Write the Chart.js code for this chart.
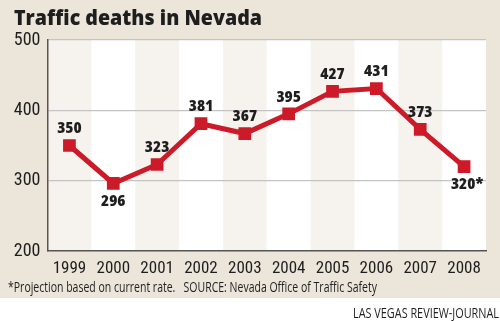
<!DOCTYPE html>
<html>
<head>
<meta charset="utf-8">
<script src="https://cdn.jsdelivr.net/npm/chart.js@4.4.1/dist/chart.umd.min.js"></script>
<style>
  html, body { margin: 0; padding: 0; background: #ffffff; }
  #wrap { position: relative; width: 500px; height: 321px; overflow: hidden; background: #ffffff; }
  #bg { position: absolute; left: 0; top: 0; width: 500px; height: 298px; background: #ece6da; }
  #chart { position: absolute; left: 0; top: 0; }
  .txt { position: absolute; white-space: nowrap; color: #1e1e1e; font-family: "Open Sans", sans-serif; transform-origin: 0 0; }
  #title { left: 14px; top: 3px; font-size: 21px; font-weight: 800; line-height: 28px; }
  #note { left: 8px; top: 279px; font-size: 14px; line-height: 16px; }
  #credit { left: 353px; top: 305px; font-size: 14px; line-height: 16px; }
</style>
</head>
<body>
<div id="wrap">
  <div id="bg"></div>
  <canvas id="chart" width="500" height="321"></canvas>
  <div id="title" class="txt">Traffic deaths in Nevada</div>
  <div id="note" class="txt">*Projection based on current rate.&nbsp;&nbsp;&nbsp;SOURCE: Nevada Office of Traffic Safety</div>
  <div id="credit" class="txt">LAS VEGAS REVIEW-JOURNAL</div>
</div>
<script>
const years = ['1999','2000','2001','2002','2003','2004','2005','2006','2007','2008'];
const deaths = [350, 296, 323, 381, 367, 395, 427, 431, 373, 320];
const pointLabels = ['350','296','323','381','367','395','427','431','373','320*'];
const labelBelow = [false, true, false, false, false, false, false, false, false, true];
const yTicks = [200, 300, 400, 500];

const TICKFONT = '"Roboto Condensed", "Open Sans", sans-serif';

function fitWidth(id, target) {
  const el = document.getElementById(id);
  const w = el.getBoundingClientRect().width;
  if (w > 0) el.style.transform = 'scaleX(' + (target / w) + ')';
}
fitWidth('title', 248);
fitWidth('note', 369);
fitWidth('credit', 146);

const bandsPlugin = {
  id: 'bands',
  beforeDraw(chart) {
    const { ctx, chartArea, scales } = chart;
    const x = scales.x;
    ctx.save();
    ctx.fillStyle = '#ffffff';
    ctx.fillRect(chartArea.left, chartArea.top, chartArea.right - chartArea.left, chartArea.bottom - chartArea.top);
    const n = years.length;
    const w = (chartArea.right - chartArea.left) / n;
    ctx.fillStyle = '#f6f3ee';
    for (let i = 0; i < n; i += 2) {
      const cx = x.getPixelForValue(i);
      ctx.fillRect(cx - w / 2, chartArea.top, w, chartArea.bottom - chartArea.top);
    }
    ctx.restore();
  }
};

const labelPlugin = {
  id: 'pointLabels',
  afterDatasetsDraw(chart) {
    const { ctx } = chart;
    const meta = chart.getDatasetMeta(0);
    ctx.save();
    ctx.font = '800 16.5px "Open Sans"';
    try { ctx.fontStretch = 'semi-condensed'; } catch (e) {}
    ctx.fillStyle = '#1e1e1e';
    ctx.textAlign = 'center';
    ctx.textBaseline = 'middle';
    meta.data.forEach((pt, i) => {
      const txt = pointLabels[i];
      let x = pt.x;
      if (txt.endsWith('*')) x += 3;
      const y = labelBelow[i] ? pt.y + 18 : pt.y - 17;
      ctx.fillText(txt, x, y);
    });
    ctx.restore();
  }
};

new Chart(document.getElementById('chart'), {
  type: 'line',
  data: {
    labels: years,
    datasets: [{
      data: deaths,
      borderColor: '#cd1a29',
      backgroundColor: '#cd1a29',
      borderWidth: 5,
      pointStyle: 'rect',
      pointRadius: 9,
      pointHoverRadius: 9,
      pointBorderWidth: 0,
      tension: 0,
      fill: false
    }]
  },
  options: {
    responsive: false,
    animation: false,
    events: [],
    layout: { padding: { top: 40, right: 14, bottom: 30, left: 0 } },
    plugins: { legend: { display: false }, tooltip: { enabled: false }, title: { display: false } },
    scales: {
      x: {
        type: 'category',
        offset: true,
        grid: { display: false, drawTicks: false },
        border: { display: true, color: '#555555', width: 1.5 },
        ticks: { color: '#1e1e1e', font: { family: TICKFONT, size: 17 }, padding: 8, maxRotation: 0, autoSkip: false },
        afterFit(scale) { scale.height = 40; }
      },
      y: {
        min: 200,
        max: 500,
        afterBuildTicks(scale) { scale.ticks = yTicks.map(v => ({ value: v })); },
        grid: {
          color: (ctx) => ctx.tick && ctx.tick.value === 200 ? 'rgba(0,0,0,0)' : '#c4c4c4',
          lineWidth: 1.2,
          drawTicks: false
        },
        border: { display: true, color: '#555555', width: 1.5 },
        ticks: { color: '#1e1e1e', font: { family: TICKFONT, size: 18 }, padding: 7 },
        afterFit(scale) { scale.width = 47.5; }
      }
    }
  },
  plugins: [bandsPlugin, labelPlugin]
});
</script>
</body>
</html>
